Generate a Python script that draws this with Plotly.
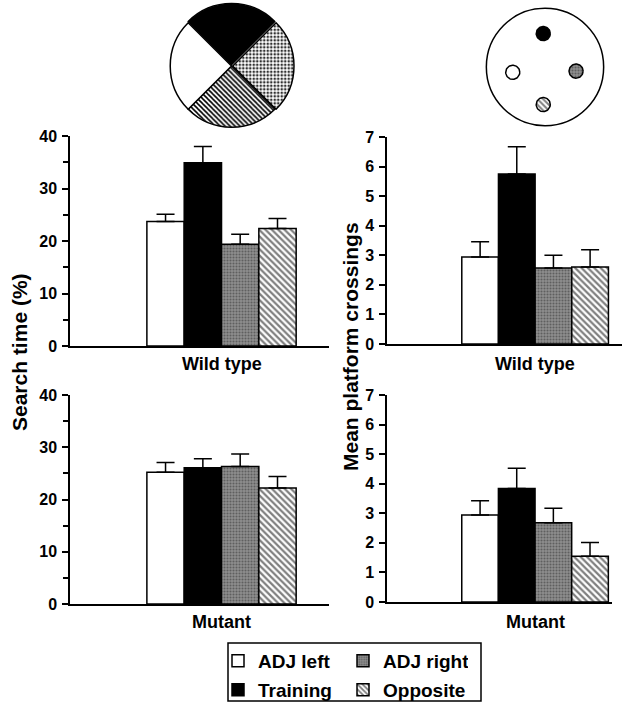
import numpy as np
import plotly.graph_objects as go

# ---------------- data ----------------
conditions = ["ADJ left", "Training", "ADJ right", "Opposite"]
positions = [0, 1, 2, 3]

wt_search = [23.7, 34.9, 19.4, 22.4]
wt_search_sem = [1.4, 3.1, 1.9, 1.9]
mut_search = [25.2, 26.1, 26.3, 22.2]
mut_search_sem = [1.9, 1.7, 2.4, 2.2]
wt_cross = [2.94, 5.75, 2.57, 2.60]
wt_cross_sem = [0.52, 0.92, 0.43, 0.59]
mut_cross = [2.94, 3.84, 2.68, 1.55]
mut_cross_sem = [0.48, 0.68, 0.49, 0.46]

search_ticks = [0, 10, 20, 30, 40]
cross_ticks = [0, 1, 2, 3, 4, 5, 6, 7]

pie_labels = ["Training", "ADJ right", "Opposite", "ADJ left"]
pie_values = [25, 25, 25, 25]

dot_labels = ["Training", "ADJ left", "ADJ right", "Opposite"]
dot_x = [-0.03, -0.55, 0.53, -0.03]
dot_y = [0.57, -0.09, -0.07, -0.64]
dot_r = 0.12

# ---------------- styles ----------------
FONT = "Liberation Sans"
GRAY = "#8e8e8e"
styles = {
    "ADJ left": dict(color="white", pattern=dict(shape="")),
    "Training": dict(color="black", pattern=dict(shape="")),
    "ADJ right": dict(color=GRAY, pattern=dict(shape=".", fgcolor="#303030", size=3, solidity=0.4)),
    "Opposite": dict(color="white", pattern=dict(shape="\\", fgcolor="black", size=4.5, solidity=0.5)),
}
legend_of = {"ADJ left": "legend", "ADJ right": "legend", "Training": "legend2", "Opposite": "legend2"}

fig = go.Figure()

panels = [
    ("x", "y", wt_search, wt_search_sem, True),
    ("x2", "y2", wt_cross, wt_cross_sem, False),
    ("x3", "y3", mut_search, mut_search_sem, False),
    ("x4", "y4", mut_cross, mut_cross_sem, False),
]
for xa, ya, vals, sems, show in panels:
    for i, cond in enumerate(conditions):
        st = styles[cond]
        fig.add_trace(go.Bar(
            x=[positions[i]], y=[vals[i]], width=1.0, name=cond,
            xaxis=xa, yaxis=ya,
            marker=dict(color=st["color"], line=dict(color="black", width=1.5),
                        pattern=st["pattern"]),
            error_y=dict(type="data", array=[sems[i]], arrayminus=[0], symmetric=False,
                         color="black", thickness=1.5, width=9),
            showlegend=show, legend=legend_of[cond], hoverinfo="skip",
        ))

# pie (quadrant diagram)
pie_style = {
    "Training": ("black", "", "black"),
    "ADJ right": (GRAY, ".", "#303030"),
    "Opposite": ("white", "\\", "black"),
    "ADJ left": ("white", "", "black"),
}
fig.add_trace(go.Pie(
    labels=pie_labels, values=pie_values, sort=False, direction="clockwise", rotation=-45,
    marker=dict(colors=[pie_style[l][0] for l in pie_labels],
                line=dict(color="black", width=1.5),
                pattern=dict(shape=[pie_style[l][1] for l in pie_labels],
                             fgcolor=[pie_style[l][2] for l in pie_labels],
                             size=3.5, solidity=0.45)),
    pull=[0.02, 0.02, 0, 0], textinfo="none", hoverinfo="skip", showlegend=False,
    domain=dict(x=[169 / 634, 294 / 634], y=[(704 - 129) / 704, (704 - 3) / 704]),
))

# pool diagram with platform positions
dot_style = {
    "Training": ("black", None),
    "ADJ left": ("white", None),
    "ADJ right": (GRAY, dict(shape=".", fgcolor="#303030", bgcolor=GRAY, size=3, solidity=0.4)),
    "Opposite": ("white", dict(shape="\\", fgcolor="black", bgcolor="white", size=4, solidity=0.5)),
}
t = np.linspace(0, 2 * np.pi, 60)
for lab, cx, cy in zip(dot_labels, dot_x, dot_y):
    col, pat = dot_style[lab]
    kw = dict(fillpattern=pat) if pat else {}
    fig.add_trace(go.Scatter(
        x=cx + dot_r * np.cos(t), y=cy + dot_r * np.sin(t), mode="lines", fill="toself",
        fillcolor=col, line=dict(color="black", width=1.5), xaxis="x5", yaxis="y5",
        showlegend=False, hoverinfo="skip", **kw))

# ---------------- layout ----------------
def px_x(a, b):
    return [a / 634, b / 634]

def px_y(top, bottom):
    return [(704 - bottom) / 704, (704 - top) / 704]

tickfont = dict(family=FONT, size=16, color="black")
xcommon = dict(showline=True, linecolor="black", linewidth=1.5, showticklabels=False,
               ticks="", showgrid=False, zeroline=False, fixedrange=True)
ycommon = dict(showline=True, linecolor="black", linewidth=1.5, ticks="outside", ticklen=6,
               tickwidth=1.5, tickcolor="black", tickfont=tickfont, showgrid=False,
               zeroline=False, ticklabelstandoff=2, fixedrange=True)
minor_ticks = dict(dtick=5, ticks="outside", ticklen=5, tickwidth=1.5, tickcolor="black")

def bold_labels(vals):
    return ["<b>%d</b>" % v for v in vals]

legend_font = dict(family=FONT, size=19, color="black", weight="bold")
legend_common = dict(orientation="h", xref="container", yref="container", x=218 / 634,
                     xanchor="left", yanchor="middle", font=legend_font, entrywidth=80,
                     bgcolor="rgba(0,0,0,0)", itemclick=False, itemdoubleclick=False)

fig.update_layout(
    width=634, height=704, margin=dict(l=0, r=0, t=0, b=0, autoexpand=False),
    paper_bgcolor="white", plot_bgcolor="rgba(0,0,0,0)",
    barmode="overlay",
    font=dict(family=FONT, color="black"),
    xaxis=dict(domain=px_x(70, 329), range=[-2.56, 4.38], anchor="y", **xcommon),
    yaxis=dict(domain=px_y(136, 346), range=[0, 40], anchor="x", tickvals=search_ticks,
               ticktext=bold_labels(search_ticks), minor=minor_ticks, **ycommon),
    xaxis2=dict(domain=px_x(387, 622), range=[-2.54, 3.87], anchor="y2", **xcommon),
    yaxis2=dict(domain=px_y(137, 344), range=[0, 7], anchor="x2", tickvals=cross_ticks,
                ticktext=bold_labels(cross_ticks), **ycommon),
    xaxis3=dict(domain=px_x(70, 329), range=[-2.56, 4.38], anchor="y3", **xcommon),
    yaxis3=dict(domain=px_y(395, 604), range=[0, 40], anchor="x3", tickvals=search_ticks,
                ticktext=bold_labels(search_ticks), minor=minor_ticks, **ycommon),
    xaxis4=dict(domain=px_x(387, 612), range=[-2.54, 3.6], anchor="y4", **xcommon),
    yaxis4=dict(domain=px_y(395, 602), range=[0, 7], anchor="x4", tickvals=cross_ticks,
                ticktext=bold_labels(cross_ticks), **ycommon),
    xaxis5=dict(domain=px_x(484, 606), range=[-1.04, 1.04], visible=False, fixedrange=True),
    yaxis5=dict(domain=px_y(6, 128), range=[-1.04, 1.04], visible=False, fixedrange=True, anchor="x5"),
    legend=dict(y=(704 - 661) / 704, **legend_common),
    legend2=dict(y=(704 - 690) / 704, **legend_common),
    shapes=[
        dict(type="circle", xref="x5", yref="y5", x0=-1, x1=1, y0=-1, y1=1,
             line=dict(color="black", width=1.5)),
        dict(type="rect", xref="paper", yref="paper", x0=228 / 634, x1=481 / 634,
             y0=(704 - 701) / 704, y1=(704 - 643) / 704, line=dict(color="black", width=1.5)),
    ],
)

ann_font = dict(family=FONT, size=18, color="black", weight="bold")
title_font = dict(family=FONT, size=21, color="black", weight="bold")
common_ann = dict(showarrow=False, xanchor="center", yanchor="middle", yref="paper")
annotations = [
    dict(text="<b>Wild type</b>", xref="x", x=1.5, y=(704 - 364) / 704, font=ann_font, **common_ann),
    dict(text="<b>Wild type</b>", xref="x2", x=1.5, y=(704 - 364) / 704, font=ann_font, **common_ann),
    dict(text="<b>Mutant</b>", xref="x3", x=1.5, y=(704 - 622) / 704, font=ann_font, **common_ann),
    dict(text="<b>Mutant</b>", xref="x4", x=1.5, y=(704 - 622) / 704, font=ann_font, **common_ann),
    dict(text="<b>Search time (%)</b>", xref="paper", x=19 / 634, y=(704 - 352) / 704,
         textangle=-90, font=title_font, **common_ann),
    dict(text="<b>Mean platform crossings</b>", xref="paper", x=350 / 634, y=(704 - 347) / 704,
         textangle=-90, font=title_font, **common_ann),
]
fig.update_layout(annotations=annotations)

fig.write_html("out.html")
